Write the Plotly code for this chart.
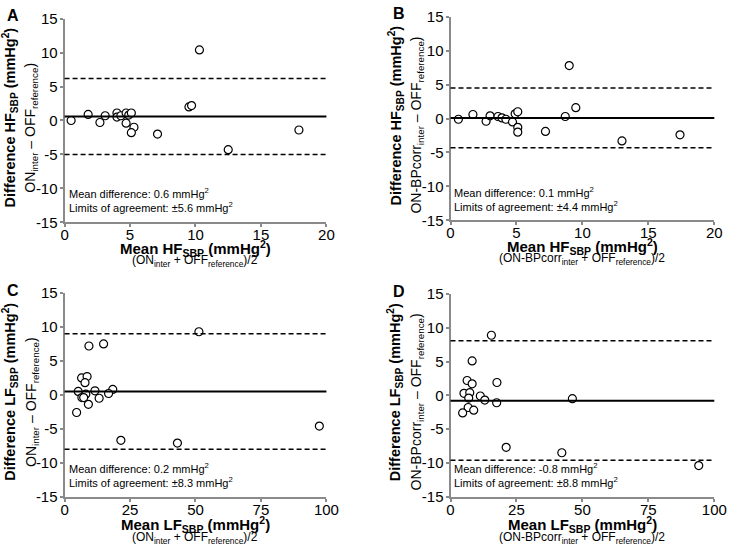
import plotly.graph_objects as go

FONT_FAMILY = "Liberation Sans, Arial, sans-serif"
W, H = 740, 557

# panel A: HF, ON_inter vs OFF_reference
a_mean = [0.5, 1.8, 2.7, 3.1, 4.0, 4.0, 4.3, 4.7, 4.7, 4.9, 5.1, 5.3, 5.1, 7.1, 9.5, 9.7, 10.3, 12.5, 17.9]
a_diff = [0.0, 0.9, -0.3, 0.7, 1.1, 0.5, 0.7, 1.1, -0.4, 0.8, 1.1, -1.0, -1.8, -2.0, 2.0, 2.2, 10.4, -4.3, -1.4]

# panel B: HF, ON-BPcorr_inter vs OFF_reference
b_mean = [0.6, 1.7, 2.7, 3.0, 3.6, 3.9, 4.2, 4.7, 4.9, 5.1, 5.1, 5.1, 7.2, 8.7, 9.0, 9.5, 13.0, 17.4]
b_diff = [-0.1, 0.6, -0.4, 0.4, 0.3, 0.1, -0.1, -0.5, 0.7, 1.0, -1.3, -2.0, -1.9, 0.3, 7.8, 1.6, -3.3, -2.4]

# panel C: LF, ON_inter vs OFF_reference
c_mean = [9.3, 14.9, 6.5, 8.6, 7.8, 5.2, 11.6, 18.4, 16.8, 8.1, 6.6, 7.3, 13.2, 9.1, 4.6, 21.5, 43.1, 51.3, 97.3]
c_diff = [7.2, 7.5, 2.5, 2.7, 1.8, 0.5, 0.6, 0.8, 0.2, 0.1, -0.4, -0.4, -0.5, -1.4, -2.6, -6.7, -7.1, 9.3, -4.6]

# panel D: LF, ON-BPcorr_inter vs OFF_reference
d_mean = [15.5, 8.2, 6.3, 8.2, 17.6, 5.1, 7.3, 6.9, 11.3, 13.0, 17.5, 6.7, 4.6, 8.8, 21.1, 42.2, 46.2, 94.1]
d_diff = [8.9, 5.1, 2.2, 1.7, 1.9, 0.3, 0.4, -0.4, -0.1, -0.7, -1.1, -1.8, -2.6, -2.2, -7.7, -8.5, -0.5, -10.4]

# bias and limits of agreement as drawn
bias = [0.6, 0.1, 0.5, -0.8]
upper = [6.2, 4.5, 9.0, 8.1]
lower = [-5.0, -4.3, -8.0, -9.6]

y_ticks = [-15, -10, -5, 0, 5, 10, 15]
y_ticktext = ["-15", "-10", "-5", "0", "5", "10", "15"]
hf_ticks = [0, 5, 10, 15, 20]
lf_ticks = [0, 25, 50, 75, 100]

letters = ["A", "B", "C", "D"]
stats = [
    "Mean difference: 0.6 mmHg<sup>2</sup><br>Limits of agreement: \u00b15.6 mmHg<sup>2</sup>",
    "Mean difference: 0.1 mmHg<sup>2</sup><br>Limits of agreement: \u00b14.4 mmHg<sup>2</sup>",
    "Mean difference: 0.2 mmHg<sup>2</sup><br>Limits of agreement: \u00b18.3 mmHg<sup>2</sup>",
    "Mean difference: -0.8 mmHg<sup>2</sup><br>Limits of agreement: \u00b18.8 mmHg<sup>2</sup>",
]
y_titles = ["<b>Difference HF<sub>SBP</sub> (mmHg<sup>2</sup>)</b>"] * 2 + \
           ["<b>Difference LF<sub>SBP</sub> (mmHg<sup>2</sup>)</b>"] * 2
y_subs = [
    "ON<sub>inter</sub> \u2013 OFF<sub>reference</sub>)",
    "ON-BPcorr<sub>inter</sub> \u2013 OFF<sub>reference</sub>)",
    "ON<sub>inter</sub> \u2013 OFF<sub>reference</sub>)",
    "ON-BPcorr<sub>inter</sub> \u2013 OFF<sub>reference</sub>)",
]
x_titles = ["<b>Mean HF<sub>SBP</sub> (mmHg<sup>2</sup>)</b>"] * 2 + \
           ["<b>Mean LF<sub>SBP</sub> (mmHg<sup>2</sup>)</b>"] * 2
x_subs = [
    "(ON<sub>inter</sub> + OFF<sub>reference</sub>)/2",
    "(ON-BPcorr<sub>inter</sub> + OFF<sub>reference</sub>)/2",
    "(ON<sub>inter</sub> + OFF<sub>reference</sub>)/2",
    "(ON-BPcorr<sub>inter</sub> + OFF<sub>reference</sub>)/2",
]

# pixel boxes of the plot areas (left, right, top, bottom)
boxes = [(62, 330, 10, 220), (457, 727, 8, 218), (62, 330, 293, 503), (457, 727, 294, 503)]
title_gap = [(27, 40), (27, 40), (29, 43), (29, 43)]


def px(x):
    return x / W


def py(y):
    return 1 - y / H


fig = go.Figure()
means = [a_mean, b_mean, c_mean, d_mean]
diffs = [a_diff, b_diff, c_diff, d_diff]
annotations = []
shapes = []

for i in range(4):
    n = "" if i == 0 else str(i + 1)
    left, right, top, bottom = boxes[i]
    fig.add_trace(go.Scatter(
        x=means[i], y=diffs[i], mode="markers",
        xaxis="x" + n, yaxis="y" + n, showlegend=False,
        marker=dict(symbol="circle", size=8, color="white",
                    line=dict(color="black", width=1.2)),
    ))
    xr = [0, 20] if i < 2 else [0, 100]
    xt = hf_ticks if i < 2 else lf_ticks
    axis_common = dict(showline=True, linecolor="#8a8a8a", linewidth=2,
                       ticks="outside", ticklen=3, tickwidth=2, tickcolor="#8a8a8a",
                       showgrid=False, zeroline=False,
                       tickfont=dict(size=15, color="black"))
    fig.update_layout(**{
        "xaxis" + n: dict(domain=[px(left), px(right)], range=xr, tickvals=xt,
                          anchor="y" + n, ticklabelstandoff=-5, **axis_common),
        "yaxis" + n: dict(domain=[py(bottom), py(top)], range=[-15, 15],
                          tickvals=y_ticks, ticktext=y_ticktext,
                          anchor="x" + n, ticklabelstandoff=-1, **axis_common),
    })
    for val, dash, w in [(bias[i], "solid", 2), (upper[i], "5px,3px", 1.5), (lower[i], "5px,3px", 1.5)]:
        shapes.append(dict(type="line", xref="x" + n + " domain", yref="y" + n,
                           x0=0, x1=1, y0=val, y1=val,
                           line=dict(color="black", width=w, dash=dash)))
    mid_y = (top + bottom) / 2
    mid_x = (left + right) / 2
    g1, g2 = title_gap[i]
    annotations += [
        dict(text="<b>" + letters[i] + "</b>", x=px(left - 53), y=py(top - 3),
             xanchor="center", yanchor="middle", font=dict(size=16)),
        dict(text=y_titles[i], x=px(left - 56), y=py(mid_y - 3), textangle=-90,
             xanchor="center", yanchor="middle", font=dict(size=14.5)),
        dict(text=y_subs[i], x=px(left - 34), y=py(mid_y + 7), textangle=-90,
             xanchor="center", yanchor="middle", font=dict(size=14)),
        dict(text=x_titles[i], x=px(mid_x), y=py(bottom + g1),
             xanchor="center", yanchor="middle", font=dict(size=15)),
        dict(text=x_subs[i], x=px(mid_x), y=py(bottom + g2),
             xanchor="center", yanchor="middle", font=dict(size=12)),
        dict(text=stats[i], x=px(left + 2), y=py(bottom - 6), align="left",
             xanchor="left", yanchor="bottom", font=dict(size=11)),
    ]

for a in annotations:
    a.update(xref="paper", yref="paper", showarrow=False)

fig.update_layout(
    width=W, height=H,
    margin=dict(l=0, r=0, t=0, b=0),
    paper_bgcolor="white", plot_bgcolor="white",
    font=dict(family=FONT_FAMILY, color="black"),
    annotations=annotations, shapes=shapes,
)

fig.write_html("out.html", config={"displayModeBar": False},
               post_script="document.body.style.margin='0';")
